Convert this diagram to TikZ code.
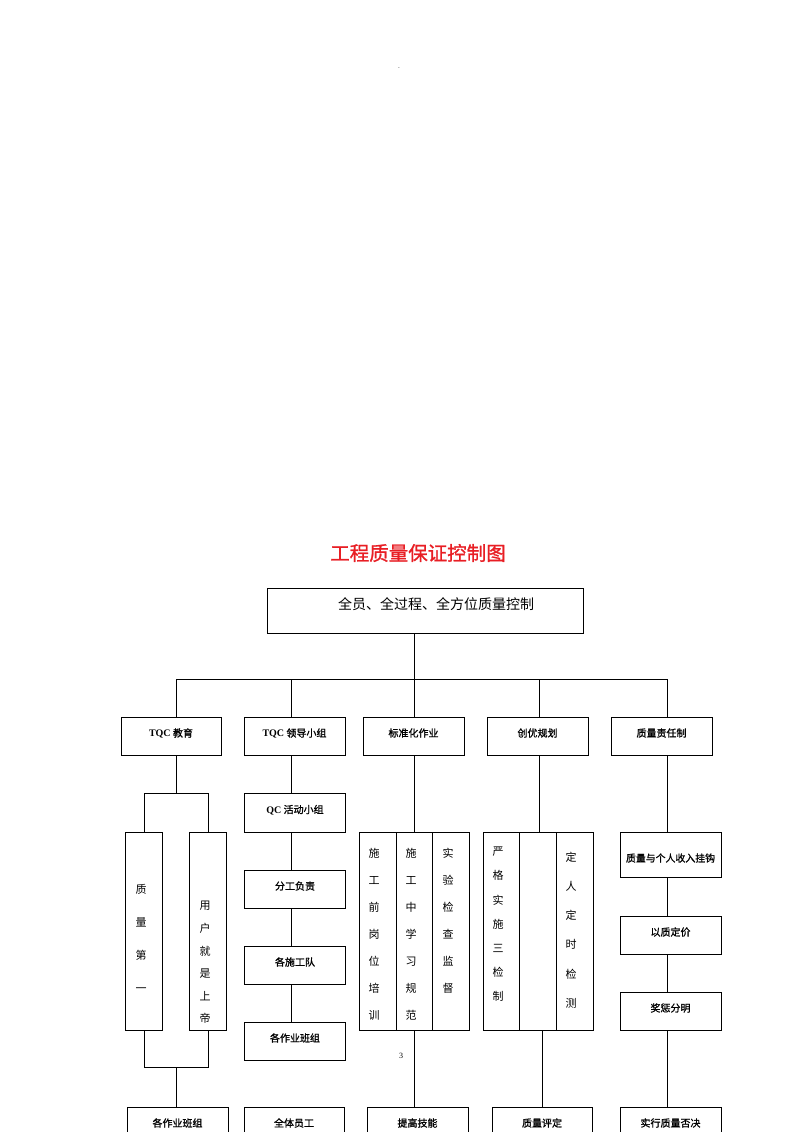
\documentclass[tikz,border=0pt]{standalone}
\usepackage{fontspec}
\newfontfamily\cjk{Noto Sans CJK SC}
\newfontfamily\cjkb{Noto Sans CJK SC}[FakeBold=1.2]
\newfontfamily\lat{Liberation Serif}
\definecolor{titlered}{RGB}{232,30,36}
\newcommand\bxfont{\cjkb\fontsize{10}{12}\selectfont}
\newcommand\tq{{\lat\bfseries TQC}}
\begin{document}
\begin{tikzpicture}[x=1pt,y=-1pt,
  ln/.style={line width=0.8pt},
  bx/.style={draw, line width=0.9pt, inner sep=0pt, font=\bxfont},
  sbox/.style={bx, minimum width=101pt, minimum height=38pt, text height=8pt, text depth=6.4pt},
  tall/.style={draw, line width=0.9pt, inner sep=0pt, minimum width=37pt, minimum height=198pt},
  vt/.style={inner sep=0pt, align=center, font=\cjk\fontsize{11}{#1}\selectfont}]
\clip (0,0) rectangle (800,1132);
% page dot and title
\node[font=\fontsize{8}{8}\selectfont] (dot) at (399,68) {.};
\node[font=\cjkb\fontsize{19.5}{22}\selectfont, text=titlered] (title) at (418,553) {工程质量保证控制图};
% top box
\node[draw, line width=0.9pt, minimum width=316pt, minimum height=45pt] (top) at (425,610.5) {};
\node[font=\cjk\fontsize{14}{16}\selectfont, inner sep=0pt] (toptext) at (436,604) {全员、全过程、全方位质量控制};
% bus
\coordinate (bus) at (414,679);
\coordinate (j1) at (176,679);
\coordinate (j2) at (291,679);
\coordinate (j4) at (539,679);
\coordinate (j5) at (667,679);
\draw[ln] (top.south -| bus) -- (bus);
\draw[ln] (j1) -- (j5);
% level 2
\node[sbox, minimum width=100pt] (b1) at (171,736) {\tq\ 教育};
\node[sbox] (b2) at (294.5,736) {\tq\ 领导小组};
\node[sbox] (b3) at (413.5,736) {标准化作业};
\node[sbox] (b4) at (537.5,736) {创优规划};
\node[sbox] (b5) at (661.5,736) {质量责任制};
\draw[ln] (j1) -- (j1 |- b1.north);
\draw[ln] (j2) -- (j2 |- b2.north);
\draw[ln] (bus) -- (bus |- b3.north);
\draw[ln] (j4) -- (j4 |- b4.north);
\draw[ln] (j5) -- (j5 |- b5.north);
% column 1
\coordinate (t1) at (176,794);
\coordinate (t2) at (176,1067);
\node[tall] (q1) at (144,931) {};
\node[tall] (u1) at (208,931) {};
\node[vt=33pt] (q1t) at (141,938.5) {质\\量\\第\\一};
\node[vt=22.6pt] (u1t) at (205,962.5) {用\\户\\就\\是\\上\\帝};
\draw[ln] (b1.south -| t1) -- (t1);
\draw[ln] (q1.north) -- ++(0,-38) -| (u1.north);
\draw[ln] (q1.south) -- ++(0,37) -| (u1.south);
\node[sbox] (bb1) at (177.5,1126) {各作业班组};
\draw[ln] (t2) -- (t2 |- bb1.north);
% column 2
\node[sbox, minimum height=39pt] (c21) at (295,812.5) {{\lat\bfseries QC}\ 活动小组};
\node[sbox] (c22) at (295,889) {分工负责};
\node[sbox] (c23) at (295,965) {各施工队};
\node[sbox] (c24) at (295,1041) {各作业班组};
\draw[ln] (b2.south -| j2) -- (c21.north -| j2);
\draw[ln] (c21.south -| j2) -- (c22.north -| j2);
\draw[ln] (c22.south -| j2) -- (c23.north -| j2);
\draw[ln] (c23.south -| j2) -- (c24.north -| j2);
\node[sbox, minimum width=100pt] (bb2) at (294,1126) {全体员工};
% column 3
\node[tall] (c3a) at (377.5,931) {};
\node[tall, minimum width=36pt] (c3b) at (414,931) {};
\node[tall] (c3c) at (450.5,931) {};
\node[vt=27pt] (c3at) at (374,934.5) {施\\工\\前\\岗\\位\\培\\训};
\node[vt=27pt] (c3bt) at (411,934.5) {施\\工\\中\\学\\习\\规\\范};
\node[vt=27pt] (c3ct) at (448,920.5) {实\\验\\检\\查\\监\\督};
\draw[ln] (b3.south -| bus) -- (c3b.north);
\node[sbox] (bb3) at (417.5,1126) {提高技能};
\draw[ln] (c3b.south) -- (bb3.north -| c3b.south);
\node[font=\lat\fontsize{8}{8}\selectfont, inner sep=0pt] (n3) at (401,1056) {3};
% column 4
\node[tall, minimum width=36pt] (c4a) at (501,931) {};
\node[tall] (c4b) at (537.5,931) {};
\node[tall] (c4c) at (574.5,931) {};
\node[vt=24.2pt] (c4at) at (498,924.5) {严\\格\\实\\施\\三\\检\\制};
\node[vt=29.2pt] (c4ct) at (571,930) {定\\人\\定\\时\\检\\测};
\draw[ln] (b4.south -| j4) -- (c4b.north -| j4);
\coordinate (k4) at (542,1030);
\node[sbox, minimum width=100pt] (bb4) at (542,1126) {质量评定};
\draw[ln] (k4) -- (k4 |- bb4.north);
% column 5
\node[sbox, minimum height=45pt, text height=16pt, text depth=1.4pt, font=\cjkb\fontsize{9.9}{12}\selectfont] (c51) at (670.5,854.5) {质量与个人收入挂钩};
\node[sbox] (c52) at (670.5,935) {以质定价};
\node[sbox] (c53) at (670.5,1011) {奖惩分明};
\node[sbox] (bb5) at (670.5,1126) {实行质量否决};
\draw[ln] (b5.south -| j5) -- (c51.north -| j5);
\draw[ln] (c51.south -| j5) -- (c52.north -| j5);
\draw[ln] (c52.south -| j5) -- (c53.north -| j5);
\draw[ln] (c53.south -| j5) -- (bb5.north -| j5);
\end{tikzpicture}
\end{document}
